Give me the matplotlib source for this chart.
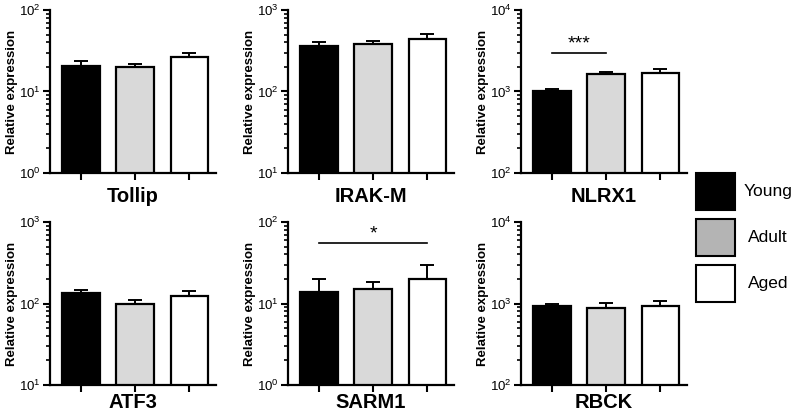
import matplotlib.pyplot as plt
from matplotlib.patches import Rectangle
from matplotlib.ticker import LogLocator, NullFormatter

plt.rcParams['font.family'] = ['Liberation Sans', 'DejaVu Sans']
plt.rcParams['mathtext.fontset'] = 'custom'
plt.rcParams['mathtext.rm'] = 'Liberation Sans:bold'
plt.rcParams['mathtext.bf'] = 'Liberation Sans:bold'

groups = ['Young', 'Adult', 'Aged']
genes = ['Tollip', 'IRAK-M', 'NLRX1', 'ATF3', 'SARM1', 'RBCK']
means = {
    'Tollip': [20.5, 20.0, 26.3],
    'IRAK-M': [366, 388, 442],
    'NLRX1': [1010, 1620, 1680],
    'ATF3': [134, 99, 124],
    'SARM1': [13.8, 15.1, 20.1],
    'RBCK': [927, 875, 927],
}
sems = {
    'Tollip': [3.0, 2.0, 3.7],
    'IRAK-M': [34, 26, 68],
    'NLRX1': [56, 130, 205],
    'ATF3': [12, 11, 19],
    'SARM1': [6.2, 3.5, 9.7],
    'RBCK': [53, 134, 153],
}
ylims = {
    'Tollip': (1e0, 1e2),
    'IRAK-M': (1e1, 1e3),
    'NLRX1': (1e2, 1e4),
    'ATF3': (1e1, 1e3),
    'SARM1': (1e0, 1e2),
    'RBCK': (1e2, 1e4),
}
# significance: gene -> (bar from, bar to, y, label)
sig = {
    'NLRX1': (0, 1, 2960, '***'),
    'SARM1': (0, 2, 55, '*'),
}

bar_colors = ['black', '#d9d9d9', 'white']
legend_colors = ['black', '#b4b4b4', 'white']

W, H = 798, 416
fig = plt.figure(figsize=(W / 100, H / 100), dpi=100)

lefts = [50, 288, 521]
tops = [10, 222]
aw, ah = 166, 163
label_y = [-14 / ah, -8 / ah]

for i, gene in enumerate(genes):
    r, c = divmod(i, 3)
    ax = fig.add_axes([lefts[c] / W, 1 - (tops[r] + ah) / H, aw / W, ah / H])
    x = range(len(groups))
    m = means[gene]
    e = sems[gene]
    ax.bar(x, m, width=0.69, color=bar_colors, edgecolor='black', linewidth=1.6, zorder=2)
    ax.errorbar(x, m, yerr=[[0, 0, 0], e], fmt='none', ecolor='black',
                elinewidth=1.4, capsize=5, capthick=1.4, zorder=1)
    ax.set_yscale('log')
    ax.set_ylim(*ylims[gene])
    ax.set_xlim(-0.57, 2.49)
    ax.yaxis.set_major_locator(LogLocator(base=10, numticks=10))
    ax.yaxis.set_minor_locator(LogLocator(base=10, subs=range(2, 10), numticks=20))
    ax.yaxis.set_minor_formatter(NullFormatter())
    ax.set_xticks(list(x))
    ax.set_xticklabels([])
    for s in ['top', 'right']:
        ax.spines[s].set_visible(False)
    for s in ['left', 'bottom']:
        ax.spines[s].set_linewidth(1.6)
    ax.tick_params(axis='y', which='major', length=5, width=1.5, labelsize=9.5, pad=1.5)
    ax.tick_params(axis='y', which='minor', length=3, width=1.2)
    ax.tick_params(axis='x', length=5, width=1.5)
    ax.set_ylabel('Relative expression', fontsize=9.5, fontweight='bold', labelpad=1)
    ax.set_xlabel(gene, fontsize=14.5, fontweight='bold')
    ax.xaxis.set_label_coords(0.5, label_y[r])
    if gene in sig:
        a, b, y, lab = sig[gene]
        ax.plot([a, b], [y, y], color='black', linewidth=1.2)
        ax.text((a + b) / 2, y * 1.03, lab, ha='center', va='bottom',
                fontsize=14)

# legend boxes
for k, (g, col) in enumerate(zip(groups, legend_colors)):
    y0 = 173 + k * 46
    fig.add_artist(Rectangle((696 / W, 1 - (y0 + 37) / H), 39 / W, 37 / H,
                             transform=fig.transFigure, facecolor=col,
                             edgecolor='black', linewidth=1.5))
    fig.text(768 / W, 1 - (y0 + 18.5) / H, g, ha='center', va='center', fontsize=12.5)

fig.savefig('out.png', dpi=100)
